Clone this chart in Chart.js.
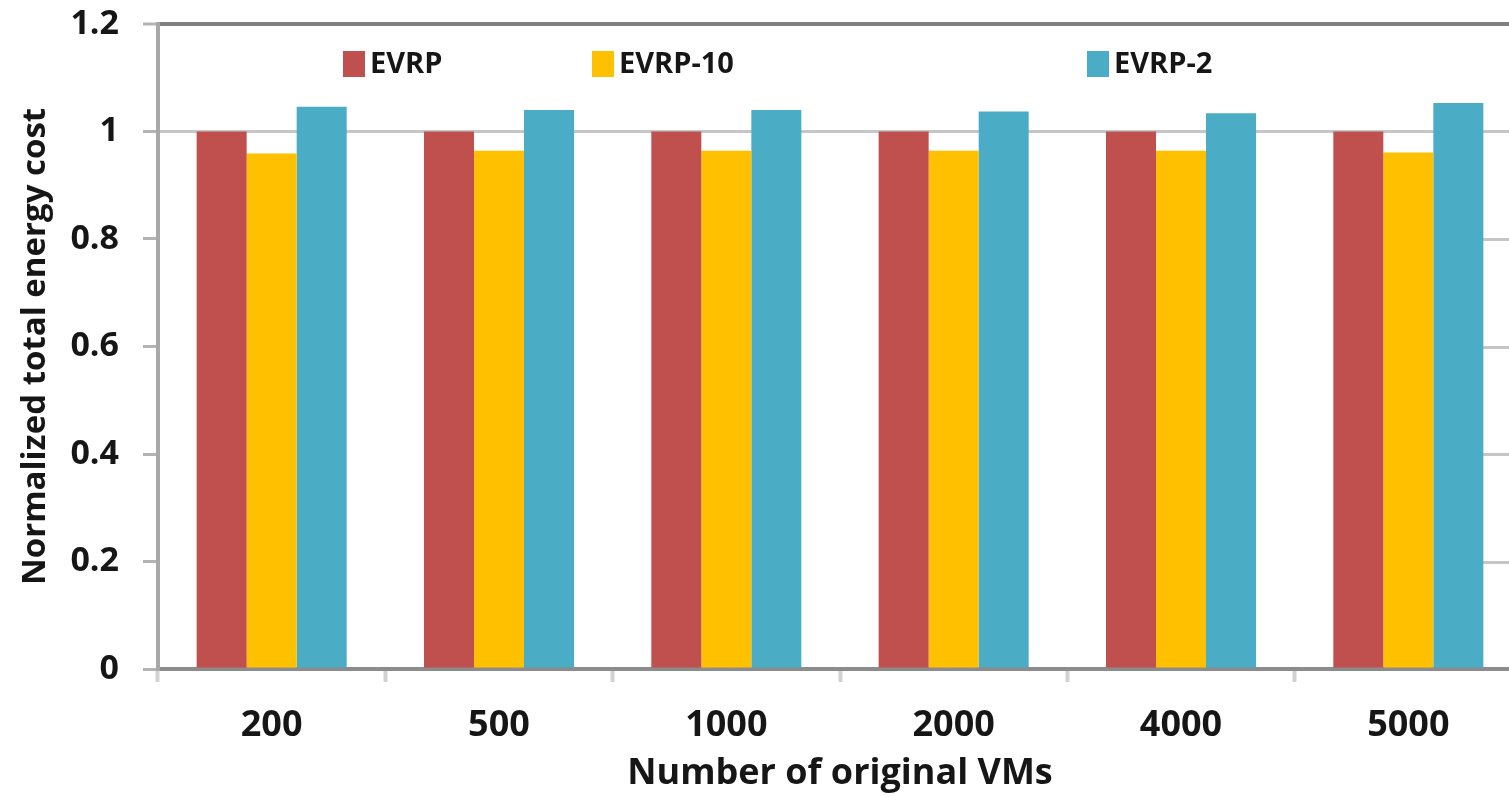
<!DOCTYPE html>
<html>
<head>
<meta charset="utf-8">
<script src="https://cdn.jsdelivr.net/npm/chart.js@4/dist/chart.umd.min.js"></script>
<style>
  html, body { margin: 0; padding: 0; background: #fff; overflow: hidden; }
  #wrap { position: absolute; left: 0; top: 0; width: 1530px; height: 797px; }
</style>
</head>
<body>
<div id="wrap"><canvas id="c"></canvas></div>
<script>
// Number of original VMs on the x axis
const categories = ['200', '500', '1000', '2000', '4000', '5000'];

// Normalized total energy cost per strategy
const evrp   = [1.000, 1.000, 1.000, 1.000, 1.000, 1.000];
const evrp10 = [0.959, 0.964, 0.964, 0.964, 0.964, 0.961];
const evrp2  = [1.046, 1.040, 1.040, 1.037, 1.034, 1.053];

const seriesNames = ['EVRP', 'EVRP-10', 'EVRP-2'];
const seriesColors = ['#C0504D', '#FFC000', '#4BACC6'];

const yTickValues = [0, 0.2, 0.4, 0.6, 0.8, 1, 1.2];

const FONT = '"Open Sans", Lato, sans-serif';
const TEXT = '#161616';

// Legend drawn across the top of the plot area
const topLegend = {
  id: 'topLegend',
  afterDraw(chart, args, opts) {
    const { ctx, chartArea } = chart;
    ctx.save();
    ctx.font = `bold ${opts.size}px ${FONT}`;
    ctx.textBaseline = 'middle';
    chart.data.datasets.forEach((ds, i) => {
      const x = chartArea.left + opts.offsets[i];
      const y = chartArea.top + opts.top;
      ctx.fillStyle = ds.backgroundColor;
      ctx.fillRect(x, y - opts.boxH / 2, opts.boxW, opts.boxH);
      ctx.fillStyle = TEXT;
      ctx.fillText(ds.label, x + opts.boxW + opts.gap, y + 1);
    });
    ctx.restore();
  }
};

// Short reference strokes along the right edge of the plot
const rightMarks = {
  id: 'rightMarks',
  beforeDatasetsDraw(chart, args, opts) {
    const { ctx, chartArea, scales } = chart;
    ctx.save();
    ctx.strokeStyle = opts.color;
    ctx.lineWidth = opts.width;
    yTickValues.filter(v => v > 0 && v < 1).forEach(v => {
      const y = Math.round(scales.y.getPixelForValue(v)) + 0.5;
      ctx.beginPath();
      ctx.moveTo(chartArea.right - opts.length, y);
      ctx.lineTo(chartArea.right, y);
      ctx.stroke();
    });
    ctx.restore();
  }
};

new Chart(document.getElementById('c'), {
  type: 'bar',
  data: {
    labels: categories,
    datasets: [evrp, evrp10, evrp2].map((d, i) => ({
      label: seriesNames[i],
      data: d,
      backgroundColor: seriesColors[i],
      borderWidth: 0,
      barPercentage: 1.0,
      categoryPercentage: 0.66
    }))
  },
  options: {
    responsive: true,
    maintainAspectRatio: false,
    devicePixelRatio: 1,
    animation: false,
    layout: { padding: { top: 24, right: 8, left: 0, bottom: 0 } },
    plugins: {
      legend: { display: false },
      tooltip: { enabled: false },
      topLegend: { size: 29, offsets: [185, 434, 929], top: 40, boxW: 22, boxH: 26, gap: 5 },
      rightMarks: { length: 44, color: '#c6c6c6', width: 3 }
    },
    scales: {
      x: {
        afterFit(scale) { scale.height = 128; scale.paddingLeft = 0; scale.paddingRight = 0; },
        grid: {
          display: true,
          drawOnChartArea: false,
          drawTicks: true,
          tickLength: 13,
          tickColor: '#d2d2d2',
          tickWidth: 4,
          offset: true
        },
        border: { display: true, color: '#8c8c8c', width: 4 },
        ticks: {
          color: TEXT,
          padding: 22,
          font: { family: FONT, size: 36, weight: 'bold' }
        },
        title: {
          display: true,
          text: 'Number of original VMs',
          color: TEXT,
          font: { family: FONT, size: 36, weight: 'bold' },
          padding: { top: 0, bottom: 2 }
        }
      },
      y: {
        min: 0,
        max: 1.2,
        afterFit(scale) { scale.width = 158; scale.paddingTop = 0; scale.paddingBottom = 0; },
        afterBuildTicks(scale) { scale.ticks = yTickValues.map(v => ({ value: v })); },
        grid: {
          drawTicks: true,
          tickLength: 15,
          tickColor: '#b4b4b4',
          tickWidth: 3,
          color: c => c.tick && c.tick.value === 1.2 ? '#808080'
                    : (c.tick && c.tick.value === 1 ? '#c6c6c6' : 'rgba(0,0,0,0)'),
          lineWidth: c => c.tick && c.tick.value === 1.2 ? 4 : 3
        },
        border: { display: true, color: '#a8a8a8', width: 4 },
        ticks: {
          color: TEXT,
          padding: 24,
          font: { family: FONT, size: 34, weight: 'bold' },
          callback: v => String(Math.round(v * 10) / 10)
        },
        title: {
          display: true,
          text: 'Normalized total energy cost',
          color: TEXT,
          font: { family: FONT, size: 33, weight: 'bold' },
          padding: { top: 16, bottom: 0 }
        }
      }
    }
  },
  plugins: [topLegend, rightMarks]
});
</script>
</body>
</html>
